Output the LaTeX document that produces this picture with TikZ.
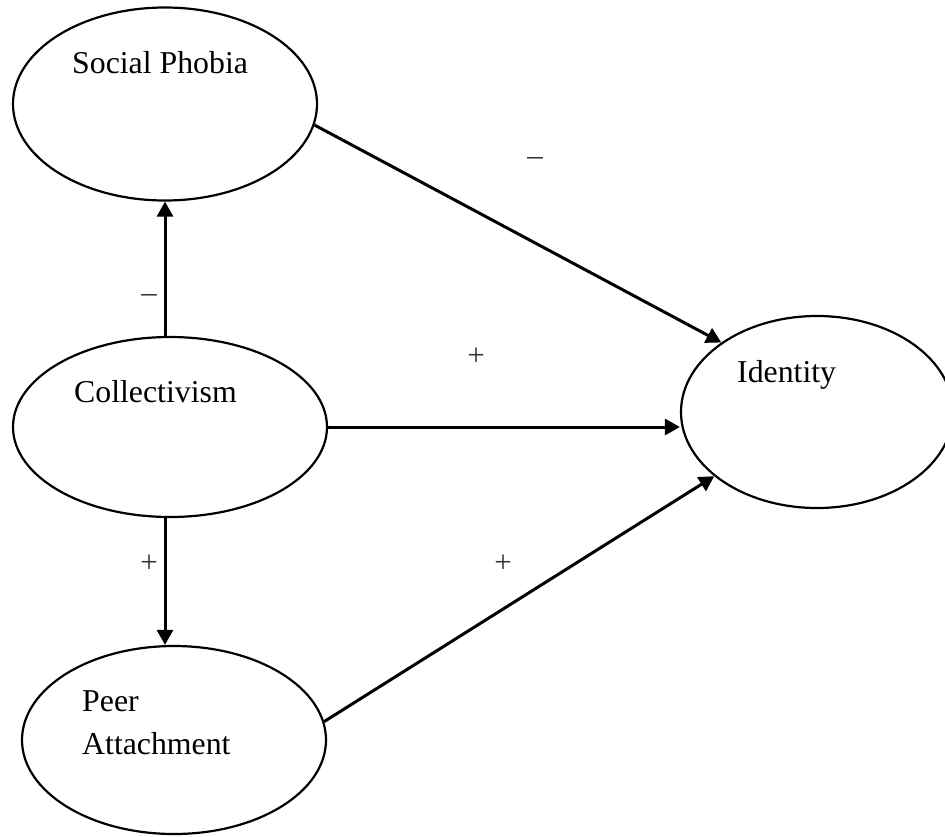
\documentclass[tikz,border=0pt]{standalone}
\usepackage{fontspec}
\setmainfont{Liberation Serif}
\usetikzlibrary{shapes.geometric,arrows.meta}
\begin{document}
\begin{tikzpicture}[x=1pt,y=-1pt,
  latent/.style={ellipse,draw,line width=2.2pt,inner sep=0pt},
  lbl/.style={anchor=base west,inner sep=0pt,font=\fontsize{31.8}{43}\selectfont},
  sign/.style={inner sep=0pt,font=\fontsize{31}{36}\selectfont,text=black!80},
  effect/.style={line width=3pt,-{Triangle[length=15pt,width=16pt]}}]
\useasboundingbox (0,0) rectangle (945,836);
\clip (0,0) rectangle (945,836);
% latent variables
\node[latent,minimum width=304pt,minimum height=193pt] (sp) at (165,104) {};
\node[latent,minimum width=314pt,minimum height=180pt] (co) at (170,427) {};
\node[latent,minimum width=304pt,minimum height=188pt] (pa) at (174,740) {};
\node[latent,minimum width=272pt,minimum height=192pt] (id) at (817,412) {};
% texts
\node[lbl] (tsp) at (72,73) {Social Phobia};
\node[lbl] (tco) at (74,402) {Collectivism};
\node[lbl] (tpe) at (82,711) {Peer};
\node[lbl] (tat) at (82,754) {Attachment};
\node[lbl] (tid) at (737,382) {Identity};
% paths
\draw[effect] (sp.-8) -- (id.144);
\draw[effect] (co.north -| sp.south) -- (sp.south);
\draw[effect] (co.east) -- (co.east -| id.west);
\draw[effect] (co.south -| sp.south) -- (pa.north -| sp.south);
\draw[effect] (pa.7) -- (id.212);
% signs
\node[sign] (s1) at (535,161) {–};
\node[sign] (s2) at (149,298) {–};
\node[sign] (s3) at (476,357) {+};
\node[sign] (s4) at (149,564) {+};
\node[sign] (s5) at (503,564) {+};
\end{tikzpicture}
\end{document}
